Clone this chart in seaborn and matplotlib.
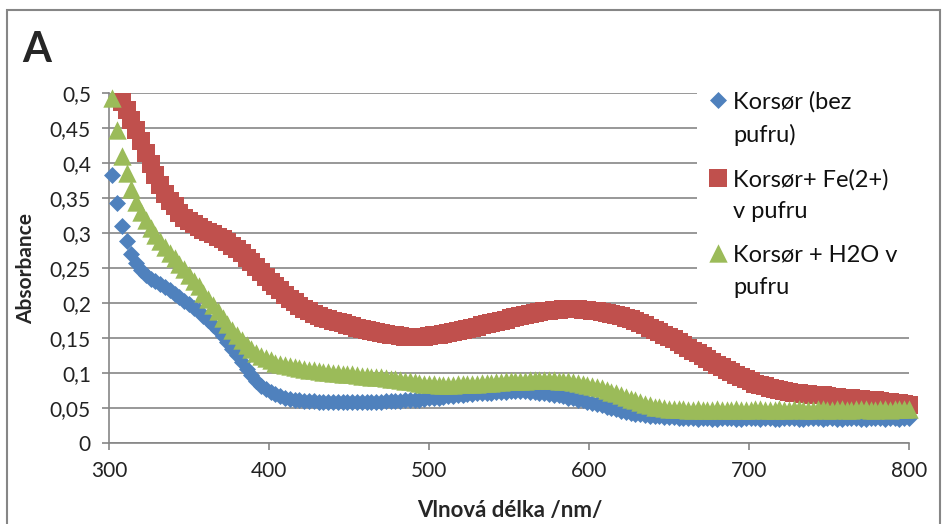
import matplotlib
matplotlib.use('Agg')
import matplotlib.pyplot as plt
import seaborn as sns
import pandas as pd
import numpy as np
from matplotlib.patches import Rectangle

# wavelength grid (nm), one reading every 3 nm
wavelength = list(range(302, 801, 3))

bez_pufru = [
    .383, .343, .310, .288, .270, .257, .247, .240, .235, .231,
    .227, .223, .218, .213, .208, .203, .198, .193, .188, .182,
    .176, .169, .161, .153, .144, .135, .126, .116, .106, .097,
    .089, .082, .077, .073, .070, .067, .065, .063, .062, .061,
    .060, .060, .060, .059, .059, .059, .059, .059, .059, .059,
    .059, .059, .059, .059, .059, .059, .059, .060, .060, .060,
    .060, .061, .061, .062, .062, .063, .064, .064, .065, .066,
    .067, .067, .068, .069, .070, .070, .071, .071, .072, .072,
    .073, .073, .073, .074, .074, .074, .074, .073, .073, .072,
    .071, .070, .069, .068, .067, .065, .064, .062, .061, .059,
    .057, .056, .054, .052, .050, .048, .046, .045, .043, .042,
    .041, .040, .039, .038, .038, .037, .037, .037, .036, .036,
    .036, .036, .035, .036, .036, .035, .035, .036, .036, .036,
    .035, .035, .036, .036, .036, .035, .036, .036, .035, .035,
    .036, .036, .036, .035, .035, .036, .036, .036, .035, .036,
    .036, .035, .035, .036, .036, .036, .035, .035, .036, .036,
    .036, .035, .036, .036, .035, .036, .036,
]

fe_pufr = [
    np.nan, np.nan, .487, .476, .462, .447, .431, .415, .399, .383,
    .368, .356, .346, .338, .328, .322, .317, .313, .309, .305,
    .302, .299, .295, .291, .287, .282, .277, .271, .265, .258,
    .251, .244, .237, .230, .224, .218, .212, .206, .201, .196,
    .192, .188, .185, .182, .179, .177, .175, .173, .171, .169,
    .167, .165, .163, .161, .160, .158, .157, .156, .155, .154,
    .153, .152, .152, .152, .152, .152, .153, .154, .155, .156,
    .157, .158, .160, .161, .163, .165, .166, .168, .170, .171,
    .173, .175, .176, .178, .180, .181, .183, .184, .186, .187,
    .188, .189, .190, .190, .191, .191, .191, .191, .190, .190,
    .189, .188, .187, .186, .185, .183, .181, .179, .177, .174,
    .171, .168, .165, .162, .159, .155, .152, .148, .144, .140,
    .136, .132, .128, .124, .120, .116, .112, .108, .104, .101,
    .097, .094, .091, .088, .085, .083, .081, .079, .077, .076,
    .074, .073, .072, .071, .070, .070, .069, .068, .068, .067,
    .066, .066, .065, .065, .064, .063, .063, .062, .061, .061,
    .060, .059, .058, .057, .057, .056, .055,
]

h2o_pufr = [
    .493, .447, .410, .386, .363, .345, .330, .318, .307, .297,
    .288, .280, .272, .264, .256, .248, .240, .232, .224, .215,
    .206, .197, .188, .179, .170, .162, .154, .147, .140, .134,
    .129, .125, .121, .118, .115, .113, .111, .110, .108, .107,
    .106, .105, .104, .103, .102, .101, .100, .100, .099, .098,
    .098, .097, .096, .096, .095, .094, .094, .093, .092, .091,
    .090, .089, .088, .087, .086, .085, .084, .084, .083, .083,
    .083, .083, .084, .084, .084, .085, .085, .086, .086, .086,
    .087, .087, .088, .088, .089, .089, .089, .090, .090, .090,
    .090, .090, .090, .089, .089, .088, .087, .086, .085, .083,
    .082, .080, .078, .076, .073, .071, .068, .066, .063, .061,
    .058, .056, .054, .052, .051, .050, .049, .048, .048, .048,
    .047, .047, .048, .047, .047, .047, .048, .047, .047, .047,
    .048, .047, .047, .047, .048, .048, .047, .047, .047, .048,
    .047, .047, .048, .048, .047, .047, .047, .048, .048, .047,
    .047, .048, .048, .047, .047, .048, .048, .048, .047, .047,
    .048, .048, .047, .048, .048, .048, .048,
]

labels = ['Korsør (bez\npufru)', 'Korsør+ Fe(2+)\nv pufru', 'Korsør + H2O v\npufru']
colors = ['#4F81BD', '#C0504D', '#9BBB59']
markers = ['D', 's', '^']
sizes = [75, 175, 175]

y_ticks = [0, 0.05, 0.1, 0.15, 0.2, 0.25, 0.3, 0.35, 0.4, 0.45, 0.5]
y_ticklabels = ['0', '0,05', '0,1', '0,15', '0,2', '0,25', '0,3', '0,35', '0,4', '0,45', '0,5']
x_ticks = [300, 400, 500, 600, 700, 800]

sns.set_style('ticks')
plt.rcParams['font.family'] = ['Lato', 'DejaVu Sans']
grey = '#868686'

fig = plt.figure(figsize=(9.45, 5.24), dpi=100)
ax = fig.add_axes([109/945, 1-443/524, 800/945, 350/524])

series = [bez_pufru, fe_pufr, h2o_pufr]
for vals, lab, c, m, s in zip(series, labels, colors, markers, sizes):
    sns.scatterplot(x=wavelength, y=vals, marker=m, s=s, color=c, linewidth=0,
                    ax=ax, clip_on=False, zorder=3)

ax.set_xlim(300, 800)
ax.set_ylim(0, 0.5)
ax.set_xticks(x_ticks)
ax.set_yticks(y_ticks)
ax.set_yticklabels(y_ticklabels)
ax.yaxis.grid(True, color=grey, lw=1.2)
ax.set_axisbelow(True)
for sp in ['top', 'right']:
    ax.spines[sp].set_visible(False)
for sp in ['left', 'bottom']:
    ax.spines[sp].set_color(grey)
    ax.spines[sp].set_linewidth(1.2)
ax.tick_params(direction='out', length=5, width=1.2, color=grey, labelsize=15,
               labelcolor='#222222')
ax.tick_params(axis='y', pad=8)
ax.tick_params(axis='x', pad=8)

ax.set_xlabel('Vlnová délka /nm/', fontsize=16, fontweight='bold')
ax.xaxis.set_label_coords((510-109)/800, (443-510)/350)
ax.xaxis.label.set_va('center')
ax.set_ylabel('Absorbance', fontsize=15, fontweight='bold')
ax.yaxis.set_label_coords((26-109)/800, 0.5)
ax.yaxis.label.set_va('center')

# legend, drawn by hand so each marker sits on the first line of its label
ax.add_patch(Rectangle(((697-109)/800, (443-305)/350), (912-697)/800, (305-80)/350,
                       transform=ax.transAxes, facecolor='white', edgecolor='none',
                       clip_on=False, zorder=2))
line_y = [(100, 133), (178, 210), (253, 285)]
for lab, c, m, s, (y1, y2) in zip(labels, colors, markers, sizes, line_y):
    ax.scatter([(718-109)/800], [(443-y1)/350], marker=m, s=s, color=c, linewidth=0,
               transform=ax.transAxes, clip_on=False, zorder=4)
    for txt, yy in zip(lab.split('\n'), (y1, y2)):
        ax.text((733-109)/800, (443-yy)/350, txt, transform=ax.transAxes,
                fontsize=17, va='center_baseline', ha='left', color='#111111', zorder=4)

fig.text(22/945, 1-62/524, 'A', fontsize=30, fontweight='bold', va='baseline')
fig.patches.append(Rectangle((7/945, -0.05), (940-7)/945, 1.05-10/524,
                             transform=fig.transFigure, fill=False, edgecolor=grey, lw=1.5))

fig.savefig('out.png', dpi=100)
